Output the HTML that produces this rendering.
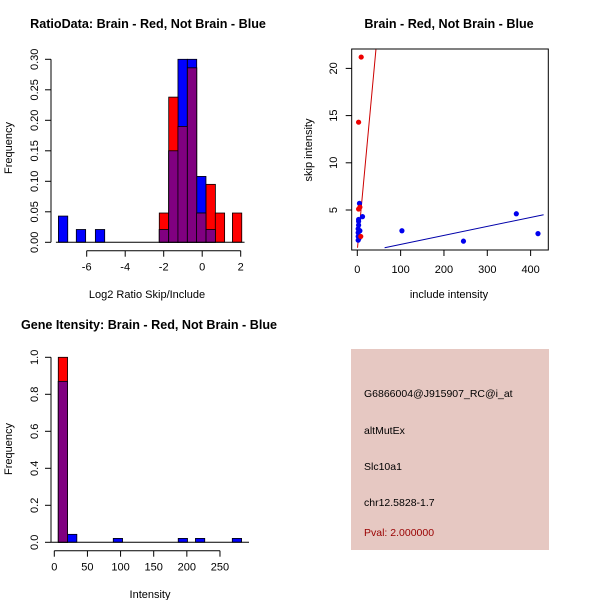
<!DOCTYPE html>
<html><head><meta charset="utf-8"><style>
body{margin:0;background:#fff}
svg{display:block;font-family:"Liberation Sans",Arial,sans-serif}
</style></head><body>
<svg id="s" width="600" height="600" xmlns="http://www.w3.org/2000/svg"></svg>
<script>
// Panel 1: ratio histogram
const ratioBlueStarts=[-7.47,-6.54,-5.55,-2.23,-1.74,-1.26,-0.77,-0.29,0.2];
const ratioBlueFreq=[0.043,0.021,0.021,0.021,0.15,0.30,0.30,0.108,0.021];
const ratioRedStarts=[-2.23,-1.74,-1.26,-0.77,-0.29,0.2,0.68,1.57];
const ratioRedFreq=[0.048,0.238,0.19,0.286,0.048,0.095,0.048,0.048];
const ratioBinW=0.485;
const ratioXTicks=[-6,-4,-2,0,2];
const ratioYTicks=[0,0.05,0.10,0.15,0.20,0.25,0.30];
// Panel 2: scatter
const blueInc=[2,2,2,2,3,3,3,4,5,6,12,103,245,367,417];
const blueSkip=[1.8,2.2,2.6,3.0,3.4,3.8,4.0,2.0,5.7,2.8,4.3,2.8,1.7,4.6,2.5];
const redInc=[3,9,3,6,8];
const redSkip=[14.3,21.2,5.1,5.3,2.2];
const redLine=[0.5,1,43,22];
const blueLine=[63,1,430,4.5];
const scatXTicks=[0,100,200,300,400];
const scatYTicks=[5,10,15,20];
// Panel 3: intensity histogram
const intBlueStarts=[6,20,89,187,213,268.6];
const intBlueFreq=[0.87,0.043,0.021,0.021,0.021,0.021];
const intRedStarts=[6];
const intRedFreq=[1.0];
const intBinW=14;
const intXTicks=[0,50,100,150,200,250];
const intYTicks=[0,0.2,0.4,0.6,0.8,1.0];

const S=document.getElementById('s');const NS='http://www.w3.org/2000/svg';
function mk(tag,at,txt){const e=document.createElementNS(NS,tag);for(const k in at)e.setAttribute(k,at[k]);if(txt!==undefined)e.textContent=txt;S.appendChild(e);return e;}
function fmt(v,d){return v.toFixed(d);}
function hist(xs,ys,bw,bStarts,bFreq,rStarts,rFreq,prefix){
  bStarts.forEach((s,i)=>{const e=mk('rect',{x:xs(s),y:ys(bFreq[i]),width:xs(s+bw)-xs(s),height:ys(0)-ys(bFreq[i]),fill:'#0000ff',stroke:'#000','stroke-width':0.8});
    
    });
  rStarts.forEach((s,i)=>{const e=mk('rect',{x:xs(s),y:ys(rFreq[i]),width:xs(s+bw)-xs(s),height:ys(0)-ys(rFreq[i]),fill:'#ff0000',stroke:'#000','stroke-width':0.8});
    
    });
  rStarts.forEach((s,i)=>{const j=bStarts.findIndex(b=>Math.abs(b-s)<1e-6);if(j<0)return;const h=Math.min(rFreq[i],bFreq[j]);
    const e=mk('rect',{x:xs(s),y:ys(h),width:xs(s+bw)-xs(s),height:ys(0)-ys(h),fill:'#800080',stroke:'#000','stroke-width':0.8});
    
    });
}
function yAxis(ys,ticks,x,dec,name){
  mk('line',{x1:x,x2:x,y1:ys(ticks[0]),y2:ys(ticks[ticks.length-1]),stroke:'#000'});
  ticks.forEach(t=>{mk('line',{x1:x-6,x2:x,y1:ys(t),y2:ys(t),stroke:'#000'});
    const e=mk('text',{x:x-13,y:ys(t),'font-size':11,'text-anchor':'middle',transform:`rotate(-90 ${x-13} ${ys(t)})`},fmt(t,dec));
    
    });
}
function xAxis(xs,ticks,y,name){
  mk('line',{x1:xs(ticks[0]),x2:xs(ticks[ticks.length-1]),y1:y,y2:y,stroke:'#000'});
  ticks.forEach(t=>{mk('line',{x1:xs(t),x2:xs(t),y1:y,y2:y+6,stroke:'#000'});
    const e=mk('text',{x:xs(t),y:y+20,'font-size':11,'text-anchor':'middle'},String(t));
    
    });
}
// Panel 1
{const xs=v=>202.2+v*19.25, ys=v=>242.3-v*610;
 hist(xs,ys,ratioBinW,ratioBlueStarts,ratioBlueFreq,ratioRedStarts,ratioRedFreq,'ratio');
 mk('line',{x1:xs(-7.6),x2:xs(2.2),y1:242.3,y2:242.3,stroke:'#000'});
 yAxis(ys,ratioYTicks,51,2,'ratio-y');xAxis(xs,ratioXTicks,250.7,'ratio-x');
 mk('text',{x:148,y:28,'font-size':12.6,'font-weight':'bold','text-anchor':'middle',},'RatioData: Brain - Red, Not Brain - Blue');
 mk('text',{x:147,y:298,'font-size':11,'text-anchor':'middle',},'Log2 Ratio Skip/Include');
 mk('text',{x:12,y:148,'font-size':11,'text-anchor':'middle',transform:'rotate(-90 12 148)',},'Frequency');}
// Panel 2
{const xs=v=>357.3+v*0.4333, ys=v=>210-(v-5)*9.44;
 mk('defs',{}).innerHTML='<clipPath id="c2"><rect x="351.7" y="49" width="196.6" height="201"/></clipPath>';
 mk('rect',{x:351.7,y:49,width:196.6,height:201,fill:'none',stroke:'#000',});
 mk('line',{x1:xs(redLine[0]),y1:ys(redLine[1]),x2:xs(redLine[2]),y2:ys(redLine[3]),stroke:'#cc0000','clip-path':'url(#c2)',});
 mk('line',{x1:xs(blueLine[0]),y1:ys(blueLine[1]),x2:xs(blueLine[2]),y2:ys(blueLine[3]),stroke:'#0000aa','clip-path':'url(#c2)',});
 blueInc.forEach((v,i)=>{const e=mk('circle',{cx:xs(v),cy:ys(blueSkip[i]),r:2.6,fill:'#0000ee'});
   
   });
 redInc.forEach((v,i)=>{const e=mk('circle',{cx:xs(v),cy:ys(redSkip[i]),r:2.6,fill:'#ee0000'});
   
   });
 scatYTicks.forEach(t=>{mk('line',{x1:345.7,x2:351.7,y1:ys(t),y2:ys(t),stroke:'#000'});
   const e=mk('text',{x:337,y:ys(t),'font-size':11,'text-anchor':'middle',transform:`rotate(-90 337 ${ys(t)})`},String(t));
   
   });
 scatXTicks.forEach(t=>{mk('line',{x1:xs(t),x2:xs(t),y1:250,y2:256,stroke:'#000'});
   const e=mk('text',{x:xs(t),y:273,'font-size':11,'text-anchor':'middle'},String(t));
   
   });
 mk('text',{x:449,y:28,'font-size':12.6,'font-weight':'bold','text-anchor':'middle',},'Brain - Red, Not Brain - Blue');
 mk('text',{x:449,y:298,'font-size':11,'text-anchor':'middle',},'include intensity');
 mk('text',{x:312,y:150,'font-size':11,'text-anchor':'middle',transform:'rotate(-90 312 150)',},'skip intensity');}
// Panel 3
{const xs=v=>54.3+v*0.6627, ys=v=>542.3-v*185;
 hist(xs,ys,intBinW,intBlueStarts,intBlueFreq,intRedStarts,intRedFreq,'intensity');
 mk('line',{x1:51,x2:249,y1:542.3,y2:542.3,stroke:'#000'});
 yAxis(ys,intYTicks,51,1,'intensity-y');
 xAxis(xs,intXTicks,550.7,'intensity-x');
 mk('text',{x:149,y:329,'font-size':12.6,'font-weight':'bold','text-anchor':'middle',},'Gene Itensity: Brain - Red, Not Brain - Blue');
 mk('text',{x:150,y:598,'font-size':11,'text-anchor':'middle',},'Intensity');
 mk('text',{x:12,y:449,'font-size':11,'text-anchor':'middle',transform:'rotate(-90 12 449)',},'Frequency');}
// Panel 4
mk('rect',{x:351,y:349,width:198,height:201,fill:'#e6c8c2',});
[['G6866004@J915907_RC@i_at',397,'#000','probe-id'],['altMutEx',434,'#000','event-type'],['Slc10a1',470,'#000','gene-name'],['chr12.5828-1.7',506,'#000','locus'],['Pval: 2.000000',536,'#990000','p-value']].forEach(a=>{
 const e=mk('text',{x:364,y:a[1],'font-size':10.5,fill:a[2]},a[0]);
 
 });
</script>
</body></html>
